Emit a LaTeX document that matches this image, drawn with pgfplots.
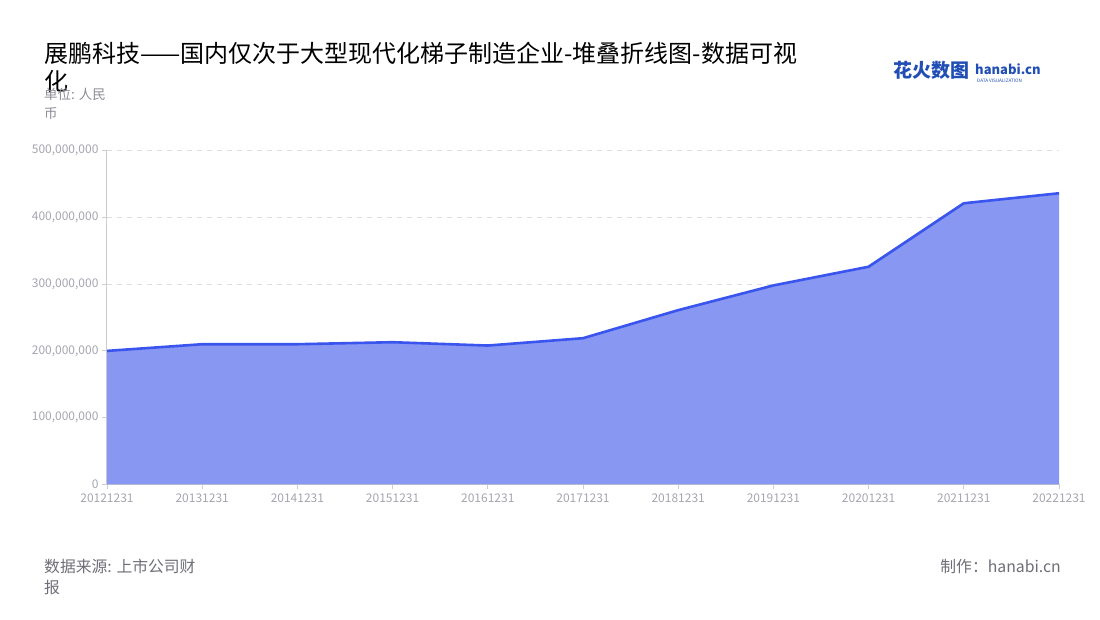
\documentclass[border=0pt]{standalone}
\usepackage{fontspec}
\setmainfont{Noto Sans CJK SC}
\usepackage{pgfplots}
\pgfplotsset{compat=1.18}
\definecolor{linec}{RGB}{58,84,238}
\definecolor{fillc}{RGB}{135,151,242}
\definecolor{tickc}{RGB}{165,165,175}
\definecolor{axc}{RGB}{205,205,205}
\definecolor{gridc}{RGB}{222,222,222}
\definecolor{subc}{RGB}{140,140,150}
\definecolor{footc}{RGB}{110,110,120}
\definecolor{logoc}{RGB}{32,78,180}
\pgfplotstableread{
x y
0 200000000
1 210000000
2 210000000
3 213000000
4 208000000
5 219000000
6 261000000
7 298000000
8 326000000
9 421000000
10 436000000
}\datatable
\begin{document}
\begin{tikzpicture}[x=1pt,y=1pt]
\useasboundingbox (0,0) rectangle (1100,620);
\begin{axis}[
  at={(107pt,135.5pt)}, anchor=south west,
  scale only axis, width=952pt, height=334pt,
  xmin=0, xmax=10, ymin=0, ymax=500000000,
  scaled y ticks=false,
  axis lines=left, axis line style={-, draw=axc, line width=1pt},
  xtick={0,...,10},
  xticklabels={20121231,20131231,20141231,20151231,20161231,20171231,20181231,20191231,20201231,20211231,20221231},
  ytick={0,100000000,200000000,300000000,400000000,500000000},
  yticklabels={0,{100,000,000},{200,000,000},{300,000,000},{400,000,000},{500,000,000}},
  tick align=outside, major tick length=5pt,
  tick style={draw=axc, line width=0.8pt},
  ymajorgrids, grid style={draw=gridc, line width=0.8pt, dash pattern=on 5pt off 5pt},
  ticklabel style={font=\fontsize{12}{14}\selectfont, text=tickc},
  xticklabel style={yshift=-1pt},
  /pgf/number format/assume math mode=true,
  clip=false,
]
\addplot[draw=none, fill=fillc] table[x=x,y=y] {\datatable} \closedcycle;
\addplot[draw=linec, line width=2.6pt, line join=round] table[x=x,y=y] {\datatable};
\end{axis}
% title
\node[anchor=base west, inner sep=0pt, font=\fontsize{24}{28}\selectfont] at (44,557) {展鹏科技——国内仅次于大型现代化梯子制造企业-堆叠折线图-数据可视};
\node[anchor=base west, inner sep=0pt, font=\fontsize{24}{28}\selectfont] at (44,529) {化};
% unit
\node[anchor=base west, inner sep=0pt, text=subc, font=\fontsize{13.5}{15}\selectfont] at (44,520) {单位: 人民};
\node[anchor=base west, inner sep=0pt, text=subc, font=\fontsize{13.5}{15}\selectfont] at (44,501) {币};
% footer
\node[anchor=base west, inner sep=0pt, text=footc, font=\fontsize{15.8}{18}\selectfont] at (44,47) {数据来源: 上市公司财};
\node[anchor=base west, inner sep=0pt, text=footc, font=\fontsize{15.8}{18}\selectfont] at (44,26) {报};
\node[anchor=base east, inner sep=0pt, text=footc, font=\fontsize{15.8}{18}\selectfont] at (1061,47) {制作：hanabi.cn};
% logo
\node[anchor=base west, inner sep=0pt, text=logoc, font=\bfseries\fontsize{19}{20}\selectfont] at (893,542) {花火数图};
\node[anchor=base west, inner sep=0pt, text=logoc, font=\bfseries\fontsize{13}{14}\selectfont] at (975,545) {hanabi.cn};
\node[anchor=base west, inner sep=0pt, text=logoc, font=\fontsize{4.6}{5}\selectfont] at (977,537) {DATA VISUALIZATION};
\end{tikzpicture}
\end{document}
